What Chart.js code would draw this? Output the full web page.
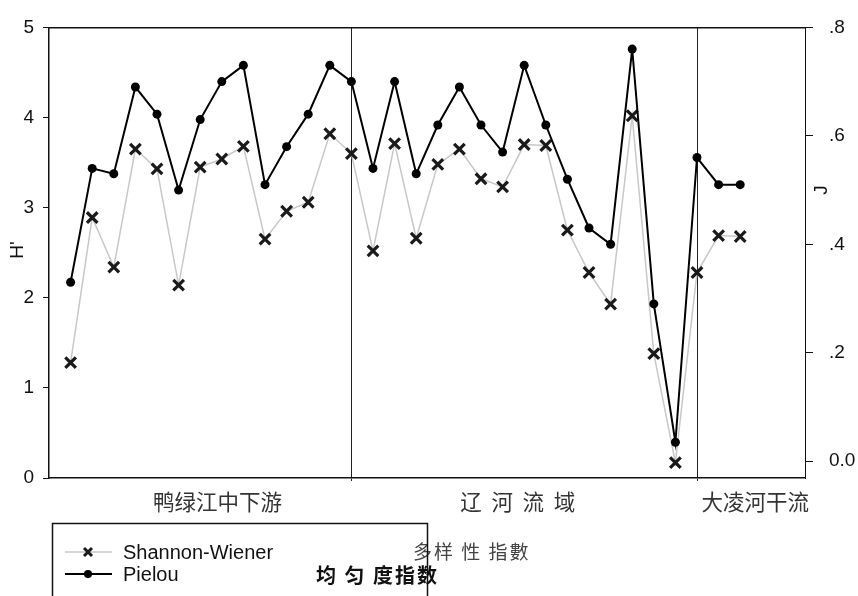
<!DOCTYPE html>
<html>
<head>
<meta charset="utf-8">
<script src="https://cdn.jsdelivr.net/npm/chart.js@4.4.1/dist/chart.umd.min.js"></script>
<style>
  html, body { margin: 0; padding: 0; background: #fff; }
  #wrap { width: 858px; height: 596px; }
</style>
</head>
<body>
<div id="wrap"><canvas id="c" width="858" height="596"></canvas></div>
<script>
// sampling sites, numbered along the rivers
const sites = [1, 2, 3, 4, 5, 6, 7, 8, 9, 10, 11, 12, 13, 14, 15, 16,
               17, 18, 19, 20, 21, 22, 23, 24, 25, 26, 27, 28, 29, 30, 31, 32];
const regions = ['鸭绿江中下游', '辽  河  流  域', '大凌河干流'];
const regionBreaks = [14, 30];

// H' (left axis)
const shannon = [1.28, 2.89, 2.34, 3.65, 3.43, 2.14, 3.45, 3.54, 3.68, 2.65, 2.96, 3.06, 3.82, 3.60, 2.52, 3.71,
                 2.66, 3.48, 3.65, 3.32, 3.23, 3.70, 3.69, 2.75, 2.28, 1.93, 4.02, 1.38, 0.17, 2.28, 2.69, 2.68];
// J (right axis)
const pielou = [0.33, 0.54, 0.53, 0.69, 0.64, 0.50, 0.63, 0.70, 0.73, 0.51, 0.58, 0.64, 0.73, 0.70, 0.54, 0.70,
                0.53, 0.62, 0.69, 0.62, 0.57, 0.73, 0.62, 0.52, 0.43, 0.40, 0.76, 0.29, 0.035, 0.56, 0.51, 0.51];

const jTicks = [0, 0.2, 0.4, 0.6, 0.8];
const jTickLabels = ['0.0', '.2', '.4', '.6', '.8'];

// where the group names sit on the x scale
const regionLabelAt = [7.8, 21.7, 32.7];

const latin = 'Liberation Sans, Arial, sans-serif';
const cjk = '"Noto Sans CJK SC", sans-serif';

const shannonStyle = { color: '#c8c8c8', mark: '#1a1a1a' };

// titles + the legend box under the plot
const extras = {
  id: 'extras',
  afterDraw(chart) {
    const ctx = chart.ctx;
    ctx.save();
    ctx.fillStyle = '#111';
    ctx.font = '19px ' + latin;
    ctx.textAlign = 'center';
    ctx.textBaseline = 'middle';
    ctx.save();
    ctx.translate(18, 250);
    ctx.rotate(-Math.PI / 2);
    ctx.fillText("H'", 0, 0);
    ctx.restore();
    ctx.save();
    ctx.translate(822, 190);
    ctx.rotate(-Math.PI / 2);
    ctx.fillText('J', 0, 0);
    ctx.restore();

    // legend box
    ctx.fillStyle = '#fff';
    ctx.fillRect(52, 523, 375, 80);

    ctx.lineWidth = 1.5;
    ctx.strokeStyle = shannonStyle.color;
    ctx.beginPath(); ctx.moveTo(65, 552); ctx.lineTo(112, 552); ctx.stroke();
    ctx.strokeStyle = shannonStyle.mark;
    ctx.lineWidth = 3;
    ctx.beginPath();
    ctx.moveTo(84, 548); ctx.lineTo(92, 556);
    ctx.moveTo(92, 548); ctx.lineTo(84, 556);
    ctx.stroke();

    ctx.strokeStyle = '#000';
    ctx.lineWidth = 2;
    ctx.beginPath(); ctx.moveTo(65, 574); ctx.lineTo(112, 574); ctx.stroke();
    ctx.fillStyle = '#000';
    ctx.beginPath(); ctx.arc(88, 574, 4, 0, Math.PI * 2); ctx.fill();

    ctx.fillStyle = '#111';
    ctx.textAlign = 'left';
    ctx.font = '20px ' + latin;
    ctx.fillText('Shannon-Wiener', 123, 553);
    ctx.fillText('Pielou', 123, 575);

    ctx.letterSpacing = '2px';
    ctx.fillStyle = '#444';
    ctx.font = '19px ' + cjk;
    ctx.fillText('多样 性 指數', 413, 552);
    ctx.fillStyle = '#111';
    ctx.font = 'bold 20px ' + cjk;
    ctx.fillText('均 匀 度指数', 316, 575);
    ctx.letterSpacing = '0px';

    ctx.strokeStyle = '#111';
    ctx.lineWidth = 1.5;
    ctx.strokeRect(52.5, 523.5, 375, 80);
    ctx.restore();
  }
};

new Chart(document.getElementById('c'), {
  type: 'line',
  data: {
    datasets: [
      {
        label: 'Pielou',
        data: sites.map((s, i) => ({ x: s, y: pielou[i] })),
        yAxisID: 'y1',
        borderColor: '#000',
        borderWidth: 2,
        backgroundColor: '#000',
        pointStyle: 'circle',
        pointRadius: 4.5,
        pointBorderWidth: 0,
        tension: 0
      },
      {
        label: 'Shannon-Wiener',
        data: sites.map((s, i) => ({ x: s, y: shannon[i] })),
        yAxisID: 'y',
        borderColor: shannonStyle.color,
        borderWidth: 1.5,
        pointStyle: 'crossRot',
        pointRadius: 7.5,
        pointBorderWidth: 3.2,
        pointBorderColor: shannonStyle.mark,
        tension: 0
      }
    ]
  },
  options: {
    responsive: false,
    animation: false,
    layout: { padding: 0 },
    plugins: { legend: { display: false }, tooltip: { enabled: false } },
    scales: {
      x: {
        type: 'linear',
        position: 'bottom',
        min: 0,
        max: 35,
        afterFit: s => { s.height = 118; },
        afterBuildTicks: s => {
          s.ticks = regionBreaks.concat(regionLabelAt).map(v => ({ value: v }));
        },
        grid: {
          color: c => (c.tick && regionBreaks.includes(c.tick.value)) ? '#222' : 'rgba(0,0,0,0)',
          tickColor: c => (c.tick && regionBreaks.includes(c.tick.value)) ? '#222' : 'rgba(0,0,0,0)',
          tickLength: 3,
          lineWidth: 1
        },
        border: { color: '#111', width: 1.5 },
        ticks: {
          autoSkip: false,
          maxRotation: 0,
          padding: 8,
          color: '#333',
          font: { family: cjk, size: 21.5 },
          callback: (v, i) => i >= regionBreaks.length ? regions[i - regionBreaks.length] : ''
        }
      },
      x2: {
        type: 'linear',
        position: 'top',
        min: 0,
        max: 35,
        afterFit: s => { s.height = 22; },
        grid: { display: false, drawTicks: false },
        border: { color: '#111', width: 1.5 },
        ticks: { display: false }
      },
      y: {
        position: 'left',
        min: 0,
        max: 5,
        afterFit: s => { s.width = 49; },
        grid: { drawOnChartArea: false, tickLength: 6, color: '#111' },
        border: { color: '#111', width: 1.5 },
        ticks: { stepSize: 1, padding: 9, color: '#111', font: { family: latin, size: 19 } }
      },
      y1: {
        position: 'right',
        min: -0.031,
        max: 0.8,
        afterFit: s => { s.width = 53; },
        afterBuildTicks: s => { s.ticks = jTicks.map(v => ({ value: v })); },
        grid: { drawOnChartArea: false, tickLength: 8, color: '#111' },
        border: { color: '#111', width: 1 },
        ticks: {
          padding: 16,
          color: '#111',
          font: { family: latin, size: 19 },
          callback: (v, i) => jTickLabels[i]
        }
      }
    }
  },
  plugins: [extras]
});
</script>
</body>
</html>
